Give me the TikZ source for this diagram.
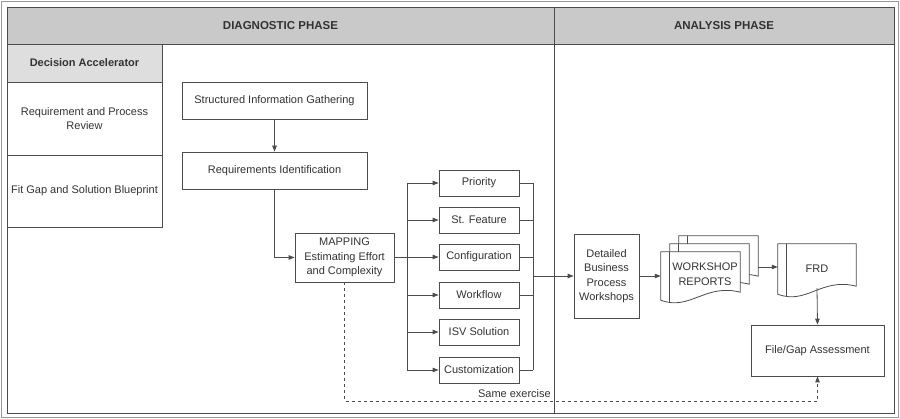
\documentclass[tikz,border=0pt]{standalone}
\usepackage{fontspec}
\setmainfont{Liberation Sans}
\usetikzlibrary{arrows.meta,calc}

% page of a document: flat top, wavy bottom, margin line on the left
\newcommand{\docpage}[1]{%
  \draw[line, fill=white] (#1.north west) -- (#1.north east)
    -- ($(#1.south east)+(0,-4)$)
    .. controls ($(#1.south east)+(-35,-13)$) and ($(#1.south west)+(29,15)$)
    .. ($(#1.south west)+(0,4)$) -- cycle;
  \draw[line] ($(#1.north west)+(9,0)$) -- ($(#1.south west)+(9,6.3)$);
}

\begin{document}
\begin{tikzpicture}[x=1pt,y=-1pt,
line/.style={draw=black!70, line width=0.8pt},
arr/.style={line, -{Triangle[length=6pt,width=4.5pt]}},
txt/.style={align=center, text=black!80, font=\fontsize{11}{14.5}\selectfont},
box/.style={rectangle, txt, draw=black!70, line width=0.8pt, fill=white,
  inner sep=0pt
},
opt/.style={box, minimum width=80, minimum height=26},
docbox/.style={rectangle, inner sep=0pt, minimum width=79, minimum height=44},
phase/.style={rectangle, draw=black!70, line width=0.8pt, fill=black!21,
  text=black!80, font=\fontsize{11.5}{14}\selectfont\bfseries, inner sep=0pt
},
cell/.style={rectangle, txt, draw=black!70, line width=0.8pt, fill=white,
  minimum width=155, inner sep=0pt
}]
\useasboundingbox (0,0) rectangle (900,419);
\draw[black!40, line width=0.8pt] (1,1) rectangle (898,417);

% frame and phases
\draw[line] (7,7) rectangle (894,413);
\draw[line] (554,7) -- (554,413);
\node (diag) at (280.5,25.5) [phase, minimum width=547, minimum height=37] {DIAGNOSTIC PHASE};
\node (anal) at (724,25.5) [phase, minimum width=340, minimum height=37] {ANALYSIS PHASE};

% left column
\node (dacc) at (84.5,63) [cell, fill=black!13, minimum height=38, font=\fontsize{11}{14.5}\selectfont\bfseries] {Decision Accelerator};
\node (rpr) at (84.5,118.5) [cell, minimum height=73] {Requirement and Process\\Review};
\node (fgb) at (84.5,191) [cell, minimum height=72] {Fit Gap and Solution Blueprint};

% diagnostic flow
\node (sig) at (274.5,100.5) [box, minimum width=185, minimum height=37] {Structured Information Gathering};
\node (rid) at (274.5,170.5) [box, minimum width=185, minimum height=37] {Requirements Identification};
\node (map) at (344.5,257.5) [box, minimum width=99, minimum height=49] {MAPPING\\Estimating Effort\\and Complexity};

\node (pri) at (479,183) [opt] {Priority};
\node (stf) at (479,220) [opt] {St. Feature};
\node (cfg) at (479,257) [opt] {Configuration};
\node (wfl) at (479,295) [opt] {Workflow};
\node (isv) at (479,332) [opt] {ISV Solution};
\node (cus) at (479,370) [opt] {Customization};

\coordinate (split) at (407,0);
\coordinate (merge) at (533,0);
\coordinate (low) at (0,401);

% analysis flow
\node (dbp) at (606.5,276) [box, minimum width=65, minimum height=84] {Detailed\\Business\\Process\\Workshops};

\node (wr3) at (718.5,258) [docbox] {};
\docpage{wr3}
\node (wr2) at (709.5,266) [docbox] {};
\docpage{wr2}
\node (wr1) at (700.5,274) [docbox] {};
\docpage{wr1}
\node (wrt) at ($(wr1.center)+(4.5,0)$) [txt] {WORKSHOP\\REPORTS};

\node (frd) at (817,267) [docbox, minimum width=78, minimum height=46] {};
\docpage{frd}
\node (frdt) at ($(frd.center)+(0,2)$) [txt] {FRD};

\node (fga) at (817.5,350.5) [box, minimum width=133, minimum height=51] {File/Gap Assessment};

% connectors
\draw[arr] (sig) -- (rid);
\draw[arr] (rid.south) |- (map.west);
\draw[line] (map.east) -- (map.east -| split);
\draw[line] (split |- pri.west) -- (split |- cus.west);
\foreach \n in {pri,stf,cfg,wfl,isv,cus}
  \draw[arr] (split |- \n.west) -- (\n.west);
\foreach \n in {pri,stf,cfg,wfl,cus}
  \draw[line] (\n.east) -- (merge |- \n.east);
\draw[line] (merge |- pri.east) -- (merge |- cus.east);
\draw[arr] (merge |- dbp.west) -- (dbp.west);
\draw[arr] (dbp.east) -- (dbp.east -| wr1.west);
\draw[arr] (frd.west -| wr3.east) -- (frd.west);
\draw[arr] ($(frd.south)+(0,-2)$) -- (fga.north);
\draw[arr, dashed] (map.south) -- (map.south |- low) -| (fga.south);
\node (same) at (551,398) [txt, anchor=south east, inner sep=0pt] {Same exercise};
\end{tikzpicture}
\end{document}
